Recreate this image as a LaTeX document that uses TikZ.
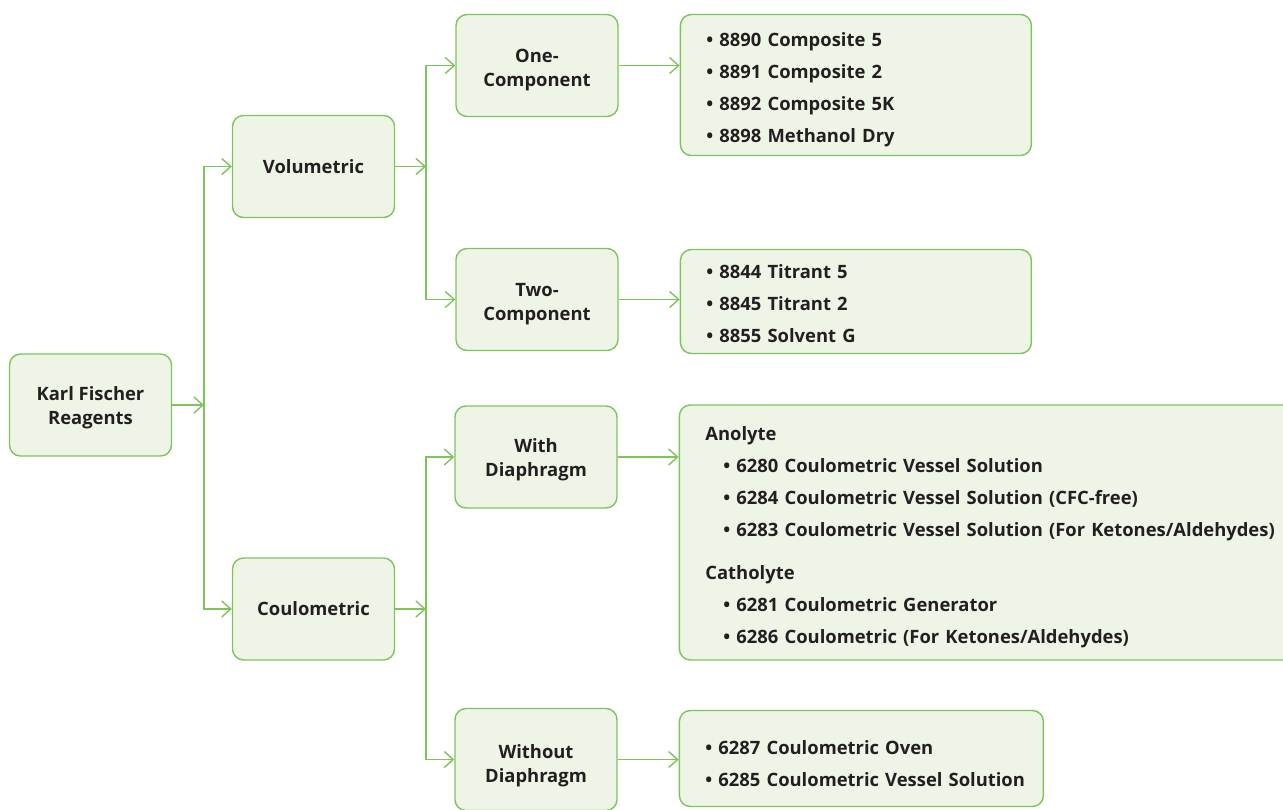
\documentclass[tikz,border=0pt]{standalone}
\usepackage{fontspec}
\setmainfont{Open Sans}
\usetikzlibrary{positioning,arrows.meta}

\definecolor{kfgreen}{RGB}{125,196,90}
\definecolor{kffill}{RGB}{238,245,231}
\definecolor{kftext}{RGB}{35,31,32}

\newcommand{\itm}{\makebox[13pt][l]{•}}
\newcommand{\toppad}[1]{\rule{0pt}{#1}}

\begin{document}
\begin{tikzpicture}[%
		x=1pt, y=-1pt,
		>={Straight Barb[length=9pt,width=16pt]},
		link/.style={->, draw=kfgreen, line width=1.4pt},
		fork/.style={<->, draw=kfgreen, line width=1.4pt},
		catbox/.style={%
			draw=kfgreen,
			fill=kffill,
			line width=1.4pt,
			rounded corners=11pt,
			minimum width=162pt,
			minimum height=102pt,
			align=center,
			text=kftext,
			font=\bfseries\fontsize{18.4}{24}\selectfont
		},
		listbox/.style={%
			draw=kfgreen,
			fill=kffill,
			line width=1.4pt,
			rounded corners=11pt,
			anchor=north west,
			inner xsep=26pt,
			inner ysep=0pt,
			align=left,
			text=kftext,
			font=\bfseries\fontsize{18.4}{32}\selectfont
		}
		]
		\useasboundingbox (0,0) rectangle (1283,809);

		\node[catbox] (karl)    at (90.5,405)   {\toppad{20pt}Karl Fischer\\Reagents};
		\node[catbox] (vol)     at (313.5,166.5) {Volumetric};
		\node[catbox] (coul)    at (313.5,609)  {Coulometric};
		\node[catbox] (one)     at (537,65.5)   {\toppad{22pt}One-\\Component};
		\node[catbox] (two)     at (537,299.5)  {\toppad{22pt}Two-\\Component};
		\node[catbox] (with)    at (536,457)    {\toppad{20pt}With\\Diaphragm};
		\node[catbox] (without) at (536,759.5)  {\toppad{26pt}Without\\Diaphragm};

		\node[listbox, text width=299pt, minimum height=141pt] (onelist) at ([xshift=61pt]one.north east)
			{\toppad{24pt}\itm 8890 Composite 5\\ \itm 8891 Composite 2\\ \itm 8892 Composite 5K\\ \itm 8898 Methanol Dry};
		\node[listbox, text width=299pt, minimum height=104pt] (twolist) at ([xshift=61pt, yshift=-1pt]two.north east)
			{\toppad{18pt}\itm 8844 Titrant 5\\ \itm 8845 Titrant 2\\ \itm 8855 Solvent G};
		\node[listbox, text width=620pt, minimum height=255pt] (withlist) at ([xshift=61pt, yshift=1pt]with.north east)
			{\toppad{24pt}Anolyte\\
			\hspace*{18pt}\itm 6280 Coulometric Vessel Solution\\
			\hspace*{18pt}\itm 6284 Coulometric Vessel Solution (CFC-free)\\
			\hspace*{18pt}\itm 6283 Coulometric Vessel Solution (For Ketones/Aldehydes)\\[11pt]
			Catholyte\\
			\hspace*{18pt}\itm 6281 Coulometric Generator\\
			\hspace*{18pt}\itm 6286 Coulometric (For Ketones/Aldehydes)};
		\node[listbox, text width=312pt, minimum height=96pt] (withoutlist) at ([xshift=61pt, yshift=-2pt]without.north east)
			{\toppad{24pt}\itm 6287 Coulometric Oven\\ \mbox{\itm 6285 Coulometric Vessel Solution}};

		% branching
		\coordinate (j1) at (204,405);
		\coordinate (j2) at (426,166.5);
		\coordinate (j3) at (426,609);
		\draw[link] (karl) -- (j1);
		\draw[fork] (vol) -| (j1) |- (coul);
		\draw[link] (vol) -- (j2);
		\draw[fork] (one) -| (j2) |- (two);
		\draw[link] (coul) -- (j3);
		\draw[fork] (with) -| (j3) |- (without);

		\draw[link] (one) -- (one -| onelist.west);
		\draw[link] (two) -- (two -| twolist.west);
		\draw[link] (with) -- (with -| withlist.west);
		\draw[link] (without) -- (without -| withoutlist.west);
\end{tikzpicture}
\end{document}
